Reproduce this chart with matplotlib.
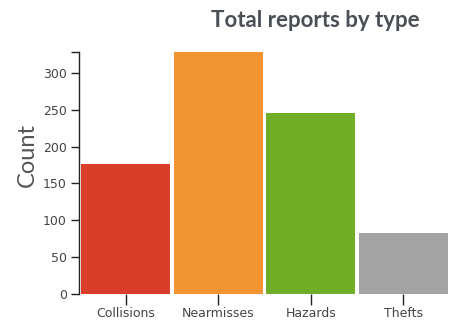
import matplotlib.pyplot as plt
from matplotlib.ticker import FixedLocator

# Report totals per type
categories = ['Collisions', 'Nearmisses', 'Hazards', 'Thefts']
counts = [176, 329, 245, 83]
colors = ['#D83E29', '#F29431', '#70AE27', '#A3A3A3']
y_ticks = [0, 50, 100, 150, 200, 250, 300]

fig = plt.figure(figsize=(4.52, 3.25), dpi=100)
ax = fig.add_axes([79.5 / 452, 31 / 325, 370 / 452, 242.5 / 325])

x = list(range(len(categories)))
ax.bar(x, counts, width=0.965, color=colors, edgecolor='none')

ax.set_xlim(-0.5, len(categories) - 0.5)
ax.set_ylim(0, max(counts))

# Axis styling: only left domain line, ticks outward
for side in ['top', 'right', 'bottom']:
    ax.spines[side].set_visible(False)
ax.spines['left'].set_color('#222222')
ax.spines['left'].set_linewidth(1.0)

ax.set_yticks(y_ticks)
ax.yaxis.set_minor_locator(FixedLocator([max(counts)]))
ax.tick_params(axis='y', which='both', length=6, width=1, color='#222222',
               labelsize=9, labelcolor='#444444', pad=3)
ax.set_xticks(x)
ax.set_xticklabels(categories)
ax.tick_params(axis='x', length=8, width=1, color='#222222',
               labelsize=9, labelcolor='#444444', pad=1.5)
for lbl in ax.get_xticklabels() + ax.get_yticklabels():
    lbl.set_family('DejaVu Sans')

fig.text(27 / 452, 1 - 155 / 325, 'Count', rotation=90, ha='center', va='center',
         fontsize=17, color='#555555', family='Lato')

fig.text(315.5 / 452, 1 - 27 / 325, 'Total reports by type', ha='center', va='baseline',
         fontsize=16, fontweight='bold', color='#4A4F56', family='Lato')

fig.savefig('out.png', dpi=100)
